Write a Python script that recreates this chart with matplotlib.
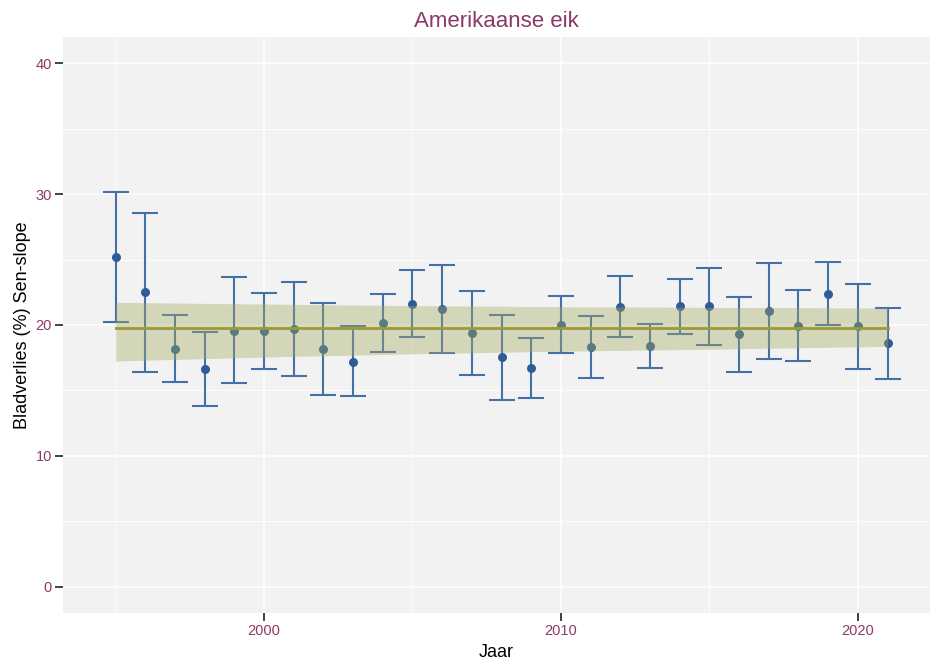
import numpy as np
import matplotlib.pyplot as plt

plt.rcParams['font.family'] = ['Liberation Sans', 'DejaVu Sans']

# Jaarlijks bladverlies met betrouwbaarheidsinterval
jaar = np.arange(1995, 2022)
bladverlies = [25.18, 22.50, 18.16, 16.63, 19.57, 19.54, 19.67, 18.16, 17.19, 20.13,
               21.63, 21.22, 19.41, 17.53, 16.71, 20.00, 18.34, 21.40, 18.42, 21.43,
               21.43, 19.31, 21.07, 19.95, 22.40, 19.95, 18.62]
bovengrens = [30.15, 28.57, 20.77, 19.46, 23.67, 22.47, 23.27, 21.66, 19.90, 22.37,
              24.21, 24.57, 22.63, 20.77, 19.00, 22.19, 20.71, 23.75, 20.10, 23.52,
              24.34, 22.14, 24.77, 22.65, 24.80, 23.14, 21.33]
ondergrens = [20.20, 16.43, 15.61, 13.80, 15.54, 16.63, 16.12, 14.69, 14.54, 17.93,
              19.08, 17.88, 16.20, 14.29, 14.41, 17.83, 15.97, 19.08, 16.73, 19.31,
              18.49, 16.43, 17.40, 17.27, 20.00, 16.66, 15.89]

# Sen-slope trend met band
trend_jaar = [1995, 2000, 2005, 2010, 2015, 2021]
trend = [19.77, 19.77, 19.77, 19.77, 19.77, 19.77]
band_onder = [17.25, 17.55, 17.80, 18.00, 18.15, 18.37]
band_boven = [21.73, 21.60, 21.48, 21.40, 21.35, 21.30]

paars = '#8B3A67'

fig = plt.figure(figsize=(9.31, 6.68), dpi=100)
ax = fig.add_axes([63 / 931, 55 / 668, 867 / 931, 576 / 668])
ax.set_facecolor('#F2F2F2')

yerr = [np.array(bladverlies) - np.array(ondergrens),
        np.array(bovengrens) - np.array(bladverlies)]
ax.errorbar(jaar, bladverlies, yerr=yerr, fmt='none', ecolor='#4470A8',
            elinewidth=1.5, capsize=9.5, capthick=1.5, zorder=3)
ax.scatter(jaar, bladverlies, s=42, color='#2F5C96', zorder=4, linewidths=0)

ax.fill_between(trend_jaar, band_onder, band_boven, color='#A4AA5E',
                alpha=0.38, linewidth=0, zorder=5)
ax.plot(trend_jaar, trend, color='#9A9B38', linewidth=2, zorder=6)

ax.set_xlim(1993.23, 2022.43)
ax.set_ylim(-2, 42)
ax.set_xticks([2000, 2010, 2020])
ax.set_xticks([1995, 2005, 2015], minor=True)
ax.set_yticks([0, 10, 20, 30, 40])
ax.set_yticks([5, 15, 25, 35], minor=True)
ax.grid(which='major', color='white', linewidth=1.1)
ax.grid(which='minor', color='white', linewidth=0.6)
ax.set_axisbelow(True)
for s in ax.spines.values():
    s.set_visible(False)
ax.tick_params(which='major', length=5.5, width=1.3, color='#333333',
               labelcolor=paars, labelsize=10.5, pad=2.5)
ax.tick_params(which='minor', length=0)

ax.set_title('Amerikaanse eik', color=paars, fontsize=16, pad=7)
ax.set_xlabel('Jaar', fontsize=13, labelpad=4)
ax.set_ylabel('Bladverlies (%) Sen-slope', fontsize=13, labelpad=3)

fig.savefig('out.png', dpi=100)
